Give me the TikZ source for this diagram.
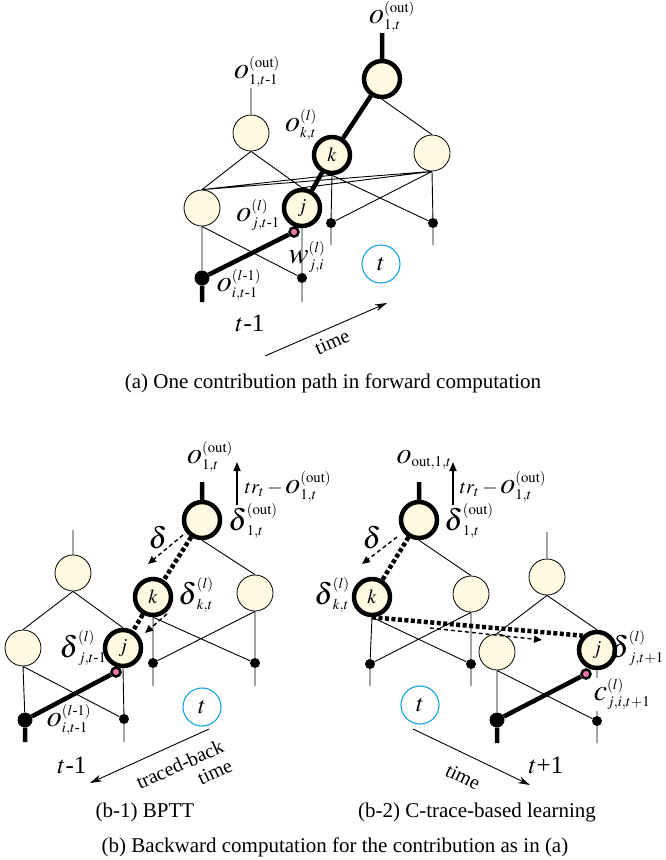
\documentclass[tikz,border=0pt]{standalone}
\usepackage{amsmath}
\usepackage{mathptmx}
\usepackage{fontspec}
\setmainfont{Liberation Serif}
\usepackage{graphicx}
\usetikzlibrary{arrows.meta,backgrounds}
\definecolor{cellfill}{RGB}{255,250,225}
\definecolor{clockblue}{RGB}{20,160,225}
\definecolor{pinkdot}{RGB}{235,120,170}
\newcommand{\bsym}[1]{\mathord{\scalebox{1.5}{$#1$}}}
\newcommand{\hy}{\text{-}}
\tikzset{
  unit/.style={circle,draw=black,fill=cellfill,line width=0.8pt,minimum size=36pt,
    inner sep=0pt,font=\fontsize{20}{20}\selectfont},
  pathunit/.style={unit,line width=4.5pt},
  indot/.style={circle,fill=black,inner sep=0pt,minimum size=10pt},
  bigdot/.style={indot,minimum size=15pt},
  pinkd/.style={circle,fill=pinkdot,draw=black,line width=2.5pt,minimum size=9pt,inner sep=0pt},
  clock/.style={circle,draw=clockblue,line width=1.1pt,minimum size=38pt,inner sep=0pt,
    font=\fontsize{24}{24}\selectfont},
  wire/.style={line width=0.9pt},
  pathwire/.style={line width=4.5pt},
  tracewire/.style={line width=4.5pt,dash pattern=on 4pt off 2.5pt},
  deltaarrow/.style={line width=1.4pt,dash pattern=on 4pt off 3pt,-{Triangle[length=8pt,width=7pt]}},
  errarrow/.style={line width=1.8pt,-{Triangle[length=9pt,width=7pt]}},
  timearrow/.style={line width=0.9pt,-{Stealth[length=12pt,width=7pt]}},
  lbl/.style={font=\fontsize{20}{20}\selectfont,inner sep=0pt},
  steplbl/.style={font=\fontsize{25}{25}\selectfont,inner sep=0pt},
  timelbl/.style={font=\fontsize{20}{21}\selectfont,inner sep=0pt},
  caption/.style={font=\fontsize{21}{23}\selectfont,inner sep=0pt},
}
\begin{document}
\begin{tikzpicture}[x=1pt,y=-1pt]
  \useasboundingbox (0,0) rectangle (665,860);

  % (a) forward computation
  \node[unit] (oA0) at (251,133) {};
  \node[unit] (hA0) at (202,208) {};
  \node[pathunit] (jA0) at (302,208) {$j$};
  \node[bigdot] (iA0) at (202,278) {};
  \node[indot] (iA0r) at (302,278) {};
  \node[pinkd] (pA0) at (294,232) {};
  \node[pathunit] (oA1) at (382,79) {};
  \node[pathunit] (kA1) at (332,155) {$k$};
  \node[unit] (hA1) at (432,153) {};
  \node[indot] (iA1) at (331,223) {};
  \node[indot] (iA1r) at (433,223) {};
  \coordinate (oA0u) at (251,88);
  \coordinate (oA1u) at (382,33);
  \coordinate (iA0d) at (202,302);
  \coordinate (iA0rd) at (302,302);
  \coordinate (iA1d) at (331,245);
  \coordinate (iA1rd) at (433,245);
  \begin{scope}[on background layer]
    \draw[wire] (oA0u) -- (oA0) (oA0.south) -- (hA0.north) (oA0.south) -- (jA0.north)
      (hA0.south) -- (iA0) (hA0.south) -- (iA0r) (jA0.south) -- (iA0r) (iA0r) -- (iA0rd)
      (oA1.south) -- (hA1.north) (kA1.south) -- (iA1) (kA1.south) -- (iA1r)
      (hA1.south) -- (iA1) (hA1.south) -- (iA1r) (iA1) -- (iA1d) (iA1r) -- (iA1rd)
      (hA0.north) -- (kA1.south) (hA0.north) -- (hA1.south) (jA0.north) -- (hA1.south);
    \draw[pathwire] (oA1u) -- (oA1) (oA1) -- (kA1) (kA1) -- (jA0) (pA0) -- (iA0) (iA0) -- (iA0d);
  \end{scope}
  \node[lbl] at (257,72) {$\bsym{o}^{(\mathrm{out})}_{1,t\hy 1}$};
  \node[lbl] at (392,17) {$\bsym{o}^{(\mathrm{out})}_{1,t}$};
  \node[lbl] at (301,125) {$\bsym{o}^{(l)}_{k,t}$};
  \node[lbl] at (258,215) {$\bsym{o}^{(l)}_{j,t\hy 1}$};
  \node[lbl] at (307,257) {$\bsym{w}^{(l)}_{j,i}$};
  \node[lbl] at (239,285) {$\bsym{o}^{(l\hy 1)}_{i,t\hy 1}$};
  \node[clock] (cA) at (381,264) {$t$};
  \node[steplbl] at (250,323) {$t$-1};
  \coordinate (tA0) at (265,356);
  \coordinate (tA1) at (387,303);
  \draw[timearrow] (tA0) -- (tA1);
  \node[timelbl,rotate=23.5] at (332,342) {time};
  \node[caption] at (333,383) {(a) One contribution path in forward computation};

  % (b-1) BPTT
  \node[unit] (oB0) at (73,573) {};
  \node[unit] (hB0) at (23,648) {};
  \node[pathunit] (jB0) at (123,648) {$j$};
  \node[bigdot] (iB0) at (25,720) {};
  \node[indot] (iB0r) at (124,719) {};
  \node[pinkd] (pB0) at (116,672) {};
  \node[pathunit] (oB1) at (202,520) {};
  \node[pathunit] (kB1) at (153,597) {$k$};
  \node[unit] (hB1) at (255,593) {};
  \node[indot] (iB1) at (153,663) {};
  \node[indot] (iB1r) at (255,663) {};
  \coordinate (oB0u) at (73,530);
  \coordinate (oB1u) at (202,482);
  \coordinate (iB0d) at (25,742);
  \coordinate (iB0rd) at (124,742);
  \coordinate (iB1d) at (153,686);
  \coordinate (iB1rd) at (255,686);
  \begin{scope}[on background layer]
    \draw[wire] (oB0u) -- (oB0) (oB0.south) -- (hB0.north) (oB0.south) -- (jB0.north)
      (hB0.south) -- (iB0) (hB0.south) -- (iB0r) (jB0.south) -- (iB0r) (iB0r) -- (iB0rd)
      (oB1.south) -- (hB1.north) (kB1.south) -- (iB1) (kB1.south) -- (iB1r)
      (hB1.south) -- (iB1) (hB1.south) -- (iB1r) (iB1) -- (iB1d) (iB1r) -- (iB1rd);
    \draw[pathwire] (oB1u) -- (oB1) (pB0) -- (iB0) (iB0) -- (iB0d);
    \draw[tracewire] (oB1) -- (kB1) (kB1) -- (jB0);
  \end{scope}
  \coordinate (eB0) at (237,505);
  \coordinate (eB1) at (237,462);
  \draw[errarrow] (eB0) -- (eB1);
  \coordinate (dB0) at (183,535);
  \coordinate (dB1) at (148,564);
  \draw[deltaarrow] (dB0) -- (dB1);
  \coordinate (dB2) at (167,614);
  \coordinate (dB3) at (145,633);
  \draw[deltaarrow] (dB2) -- (dB3);
  \node[lbl] at (210,457) {$\bsym{o}^{(\mathrm{out})}_{1,t}$};
  \node[lbl] at (288,487) {$tr_t - \bsym{o}^{(\mathrm{out})}_{1,t}$};
  \node[lbl] at (253,521) {$\bsym{\delta}^{(\mathrm{out})}_{1,t}$};
  \node[lbl] at (158,538) {$\bsym{\delta}$};
  \node[lbl] at (196,595) {$\bsym{\delta}^{(l)}_{k,t}$};
  \node[lbl] at (83,648) {$\bsym{\delta}^{(l)}_{j,t\hy 1}$};
  \node[lbl] at (69,720) {$\bsym{o}^{(l\hy 1)}_{i,t\hy 1}$};
  \node[clock] (cB) at (202,707) {$t$};
  \node[steplbl] at (72,765) {$t$-1};
  \coordinate (tB0) at (209,729);
  \coordinate (tB1) at (90,783);
  \draw[timearrow] (tB0) -- (tB1);
  \node[timelbl,rotate=24.4,align=right] at (184,774) {traced-back\\time};
  \node[caption] at (145,812) {(b-1) BPTT};

  % (b-2) C-trace-based learning
  \node[pathunit] (oC1) at (419,520) {};
  \node[pathunit] (kC1) at (372,597) {$k$};
  \node[unit] (hC1) at (471,594) {};
  \node[indot] (iC1) at (370,664) {};
  \node[indot] (iC1r) at (471,664) {};
  \node[unit] (oC2) at (547,577) {};
  \node[unit] (hC2) at (497,652) {};
  \node[pathunit] (jC2) at (597,650) {$j$};
  \node[bigdot] (iC2) at (497,720) {};
  \node[indot] (iC2r) at (597,721) {};
  \node[pinkd] (pC2) at (586,674) {};
  \coordinate (oC1u) at (419,482);
  \coordinate (oC2u) at (547,532);
  \coordinate (iC1d) at (370,686);
  \coordinate (iC1rd) at (471,686);
  \coordinate (iC2d) at (497,743);
  \coordinate (iC2rd) at (597,743);
  \begin{scope}[on background layer]
    \draw[wire] (oC2u) -- (oC2) (oC2.south) -- (hC2.north) (oC2.south) -- (jC2.north)
      (hC2.south) -- (iC2) (hC2.south) -- (iC2r) (jC2.south) -- (iC2r) (iC2r) -- (iC2rd)
      (oC1.south) -- (hC1.north) (kC1.south) -- (iC1) (kC1.south) -- (iC1r)
      (hC1.south) -- (iC1) (hC1.south) -- (iC1r) (iC1) -- (iC1d) (iC1r) -- (iC1rd);
    \draw[pathwire] (oC1u) -- (oC1) (pC2) -- (iC2) (iC2) -- (iC2d);
    \draw[tracewire] (oC1) -- (kC1) (kC1.south) -- (jC2.north west);
  \end{scope}
  \coordinate (eC0) at (453,505);
  \coordinate (eC1) at (453,462);
  \draw[errarrow] (eC0) -- (eC1);
  \coordinate (dC0) at (397,537);
  \coordinate (dC1) at (362,564);
  \draw[deltaarrow] (dC0) -- (dC1);
  \coordinate (dC2) at (430,628);
  \coordinate (dC3) at (542,640);
  \draw[deltaarrow] (dC2) -- (dC3);
  \node[lbl] at (424,460) {$\bsym{o}_{\mathrm{out},1,t}$};
  \node[lbl] at (503,487) {$tr_t - \bsym{o}^{(\mathrm{out})}_{1,t}$};
  \node[lbl] at (469,521) {$\bsym{\delta}^{(\mathrm{out})}_{1,t}$};
  \node[lbl] at (372,538) {$\bsym{\delta}$};
  \node[lbl] at (332,595) {$\bsym{\delta}^{(l)}_{k,t}$};
  \node[lbl] at (637,648) {$\bsym{\delta}^{(l)}_{j,t+1}$};
  \node[lbl,fill=white,inner sep=1pt] at (622,694) {$\bsym{c}^{(l)}_{j,i,t+1}$};
  \node[clock] (cC) at (420,705) {$t$};
  \node[steplbl] at (546,765) {$t$+1};
  \coordinate (tC0) at (413,729);
  \coordinate (tC1) at (530,785);
  \draw[timearrow] (tC0) -- (tC1);
  \node[timelbl,rotate=-26] at (463,777) {time};
  \node[caption] at (477,812) {(b-2) C-trace-based learning};
  \node[caption] at (335,847) {(b) Backward computation for the contribution as in (a)};
\end{tikzpicture}
\end{document}
